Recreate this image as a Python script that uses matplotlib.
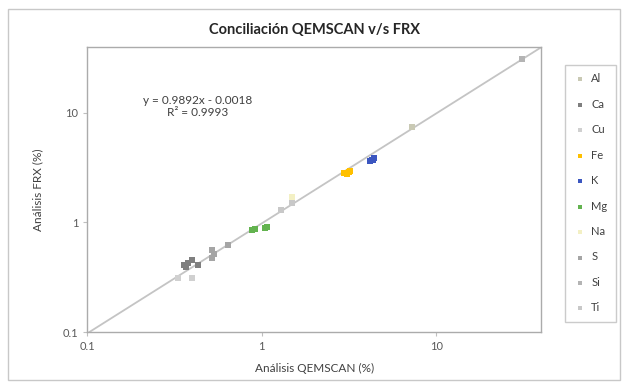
import matplotlib.pyplot as plt
from matplotlib.patches import Rectangle
import numpy as np

plt.rcParams['font.family'] = ['Lato', 'DejaVu Sans']

# Data (QEMSCAN %, FRX %)
elements = ["Al", "Ca", "Cu", "Fe", "K", "Mg", "Na", "S", "Si", "Ti"]
colors = ["#C9C9B4", "#7F7F7F", "#D0D0D0", "#FFC000", "#3B56C0",
          "#63B34F", "#F3F0C4", "#A5A5A5", "#B4B4B4", "#C8C8C8"]

al_x, al_y = [7.3], [7.45]
ca_x, ca_y = [0.36, 0.37, 0.38, 0.40, 0.43], [0.41, 0.39, 0.43, 0.45, 0.41]
cu_x, cu_y = [0.33, 0.40], [0.31, 0.31]
fe_x, fe_y = [2.95, 3.05, 3.15, 3.1, 3.2], [2.8, 2.85, 2.9, 2.75, 2.95]
k_x, k_y = [4.2, 4.3, 4.35, 4.4], [3.6, 3.75, 3.7, 3.85]
mg_x, mg_y = [0.88, 0.92, 1.05, 1.08], [0.85, 0.88, 0.89, 0.9]
na_x, na_y = [1.49], [1.69]
s_x, s_y = [0.52, 0.52, 0.53, 0.64], [0.56, 0.47, 0.52, 0.62]
si_x, si_y = [31.0], [31.0]
ti_x, ti_y = [1.49, 1.30], [1.52, 1.31]

xs = [al_x, ca_x, cu_x, fe_x, k_x, mg_x, na_x, s_x, si_x, ti_x]
ys = [al_y, ca_y, cu_y, fe_y, k_y, mg_y, na_y, s_y, si_y, ti_y]

slope, intercept = 0.9892, -0.0018
x_min, x_max = 0.1, 40

fig = plt.figure(figsize=(6.27, 3.87), dpi=100)
ax = fig.add_axes([0.139, 0.142, 0.724, 0.737])

# trendline
tx = np.array([x_min, x_max])
ax.plot(tx, slope * tx + intercept, color="#C4C4C4", linewidth=1.3, zorder=1)

for name, c, x, y in zip(elements, colors, xs, ys):
    ax.scatter(x, y, marker="s", s=15, color=c, label=name, zorder=3,
               linewidths=0)

ax.set_xscale("log")
ax.set_yscale("log")
ax.set_xlim(x_min, x_max)
ax.set_ylim(x_min, x_max)
ax.set_xticks([0.1, 1, 10])
ax.set_xticklabels(["0.1", "1", "10"])
ax.set_yticks([0.1, 1, 10])
ax.set_yticklabels(["0.1", "1", "10"])
ax.minorticks_off()
ax.tick_params(axis="both", labelsize=8, colors="#BFBFBF", labelcolor="#595959",
               length=3, width=0.8)
for sp in ax.spines.values():
    sp.set_color("#ABABAB")
    sp.set_linewidth(1.0)

ax.set_title("Conciliación QEMSCAN v/s FRX", fontsize=10.5, fontweight="bold",
             color="#262626", pad=9)
ax.set_xlabel("Análisis QEMSCAN (%)", fontsize=8.5, color="#404040", labelpad=8)
ax.set_ylabel("Análisis FRX (%)", fontsize=8.5, color="#404040", labelpad=14)

ax.text(0.243, 0.79, "y = 0.9892x - 0.0018\nR² = 0.9993", transform=ax.transAxes,
        ha="center", va="center", fontsize=8.5, color="#404040", linespacing=1.1)

leg = fig.legend(loc="upper left", bbox_to_anchor=(565 / 627, 1 - 65 / 387),
                 borderaxespad=0, frameon=True, fontsize=8, labelspacing=1.3,
                 handlelength=1.2, handletextpad=0.4, borderpad=0.75,
                 markerscale=0.65, labelcolor="#404040", fancybox=False)
leg.get_frame().set_edgecolor("#BFBFBF")
leg.get_frame().set_linewidth(1.0)

fig.patches.append(Rectangle((8 / 627, 7 / 387), 612 / 627, 371 / 387,
                             transform=fig.transFigure, fill=False,
                             edgecolor="#C8C8C8", linewidth=1.0))

fig.savefig("out.png", dpi=100)
